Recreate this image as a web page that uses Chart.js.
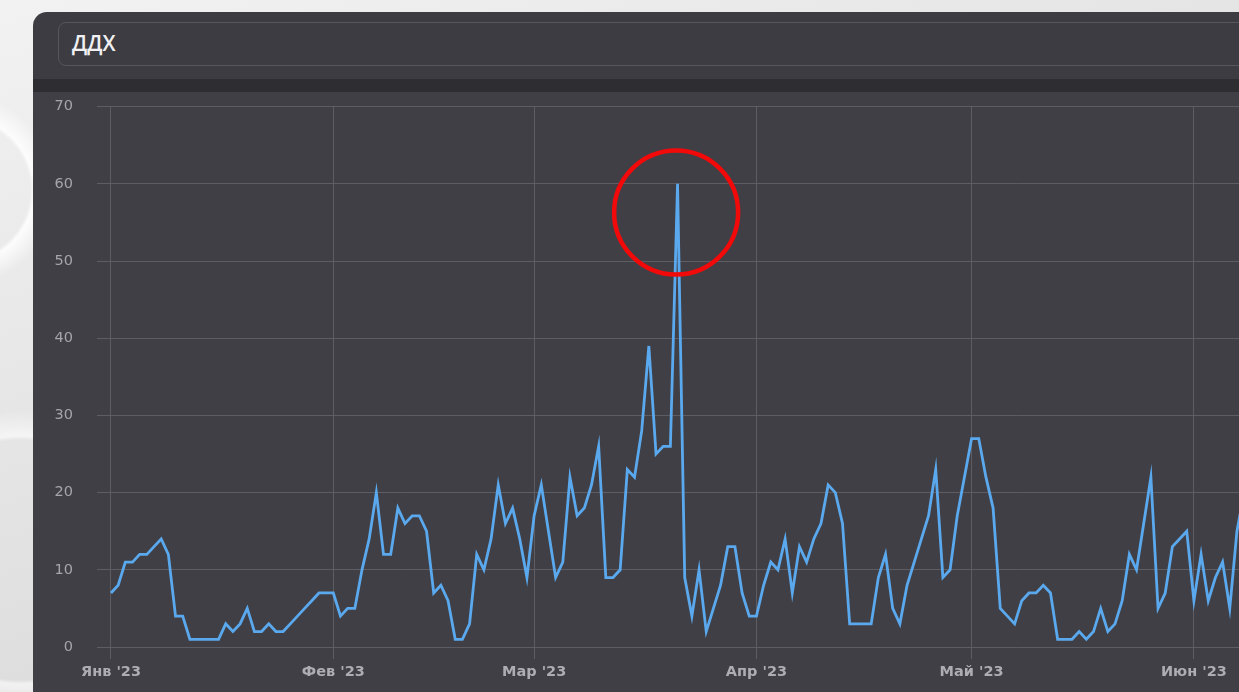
<!DOCTYPE html>
<html lang="ru">
<head>
<meta charset="utf-8">
<title>ДДХ</title>
<script src="https://cdn.jsdelivr.net/npm/chart.js@4.4.1/dist/chart.umd.min.js"></script>
<style>
  html, body {
    margin: 0;
    width: 1239px;
    height: 692px;
    overflow: hidden;
    font-family: "DejaVu Sans", "Open Sans", sans-serif;
  }
  body {
    position: relative;
    background:
      radial-gradient(circle at -40px 190px, transparent 70px, rgba(255,255,255,.85) 74px, transparent 96px),
      radial-gradient(circle at 20px 560px, transparent 120px, rgba(255,255,255,.6) 124px, transparent 150px),
      linear-gradient(160deg, #f2f2f2 0%, #dedede 60%, #e8e8e8 100%);
  }
  .panel {
    position: absolute;
    left: 33px;
    top: 12px;
    width: 1300px;
    height: 700px;
    background: #3d3c42;
    border-top-left-radius: 14px;
    overflow: hidden;
  }
  .title-box {
    position: absolute;
    left: 25px;
    top: 10px;
    width: 1300px;
    height: 44px;
    border: 1px solid #57565c;
    border-radius: 8px;
    color: #f0f0f2;
    font-family: "Open Sans", sans-serif;
    font-weight: 600;
    font-size: 21px;
    line-height: 41px;
    padding-left: 13px;
    box-sizing: border-box;
  }
  .band {
    position: absolute;
    left: 0;
    top: 67px;
    width: 100%;
    height: 13px;
    background: #2e2d32;
  }
  .chart-wrap {
    position: absolute;
    left: 0;
    top: 80px;
    width: 1290px;
    height: 600px;
    background: #403f45;
  }
  .chart-box {
    position: absolute;
    left: 0;
    top: -18px;
    width: 1290px;
    height: 618px;
  }
</style>
</head>
<body>
<div class="panel">
  <div class="title-box">ДДХ</div>
  <div class="band"></div>
  <div class="chart-wrap"><div class="chart-box"><canvas id="chart"></canvas></div></div>
</div>
<script>
// daily values, one array per month
const jan = [7, 8, 11, 11, 12, 12, 13, 14, 12, 4, 4, 1, 1, 1, 1, 1, 3, 2, 3, 5, 2, 2, 3, 2, 2, 3, 4, 5, 6, 7, 7];
const feb = [7, 4, 5, 5, 10, 14, 20, 12, 12, 18, 16, 17, 17, 15, 7, 8, 6, 1, 1, 3, 12, 10, 14, 21, 16, 18, 14, 9];
const mar = [17, 21, 15, 9, 11, 22, 17, 18, 21, 26, 9, 9, 10, 23, 22, 28, 39, 25, 26, 26, 60, 9, 4, 10, 2, 5, 8, 13, 13, 7, 4];
const apr = [4, 8, 11, 10, 14, 7, 13, 11, 14, 16, 21, 20, 16, 3, 3, 3, 3, 9, 12, 5, 3, 8, 11, 14, 17, 23, 9, 10, 17, 22];
const may = [27, 27, 22, 18, 5, 4, 3, 6, 7, 7, 8, 7, 1, 1, 1, 2, 1, 2, 5, 2, 3, 6, 12, 10, 16, 22, 5, 7, 13, 14, 15];
const jun = [6, 12, 6, 9, 11, 5, 15, 20];

const monthLabels = ["Янв '23", "Фев '23", "Мар '23", "Апр '23", "Май '23", "Июн '23"];
const monthStarts = [0, 31, 59, 90, 120, 151];
const yTicks = [0, 10, 20, 30, 40, 50, 60, 70];

const values = [].concat(jan, feb, mar, apr, may, jun);

const gridColor = '#5e5d63';

/*----------------------------- red ring round the peak -----------------------------*/
const peakRing = {
    id: 'peakRing',
    afterDatasetsDraw(chart) {
        const { ctx, scales } = chart;
        const peak = values.indexOf(Math.max(...values));
        const cx = scales.x.getPixelForValue(peak - 0.2);
        const cy = scales.y.getPixelForValue(values[peak] - 3.7);
        ctx.save();
        ctx.beginPath();
        ctx.arc(cx, cy, 62, 0, Math.PI * 2);
        ctx.lineWidth = 4.5;
        ctx.strokeStyle = '#f20a0a';
        ctx.stroke();
        ctx.restore();
    }
};

Chart.defaults.font.family = '"DejaVu Sans", "Open Sans", sans-serif';

let ctx = document.getElementById('chart').getContext('2d');

let ddxChart = new Chart(ctx, {
    type: 'line',
    data: {
        datasets: [{
            label: 'ДДХ',
            data: values.map((v, i) => ({ x: i, y: v })),
            borderColor: '#5aa9ee',
            borderWidth: 2.8,
            pointRadius: 0,
            tension: 0,
            fill: false
        }]
    },
    options: {
        responsive: true,
        maintainAspectRatio: false,
        animation: false,
        devicePixelRatio: 1,
        layout: { padding: { top: 15, left: 0, right: 0, bottom: 0 } },
        plugins: {
            legend: { display: false },
            tooltip: { enabled: false },
            title: { display: false }
        },
        scales: {
            x: {
                type: 'linear',
                min: -1.95,
                max: 169,
                afterBuildTicks: (scale) => {
                    scale.ticks = monthStarts.map(v => ({ value: v }));
                },
                afterFit: (scale) => { scale.height = 45; },
                ticks: {
                    autoSkip: false,
                    maxRotation: 0,
                    padding: 5,
                    color: '#aeadb3',
                    font: { size: 14.5, weight: 'bold' },
                    callback: (v, i) => monthLabels[i]
                },
                grid: { color: gridColor, tickLength: 12, drawTicks: true },
                border: { display: false }
            },
            y: {
                min: 0,
                max: 70,
                afterBuildTicks: (scale) => {
                    scale.ticks = yTicks.map(v => ({ value: v }));
                },
                afterFit: (scale) => { scale.width = 64; },
                ticks: {
                    padding: 24,
                    color: '#a6a5ab',
                    font: { size: 14.5 }
                },
                grid: { color: gridColor, drawTicks: false },
                border: { display: false }
            }
        }
    },
    plugins: [peakRing]
});
</script>
</body>
</html>
